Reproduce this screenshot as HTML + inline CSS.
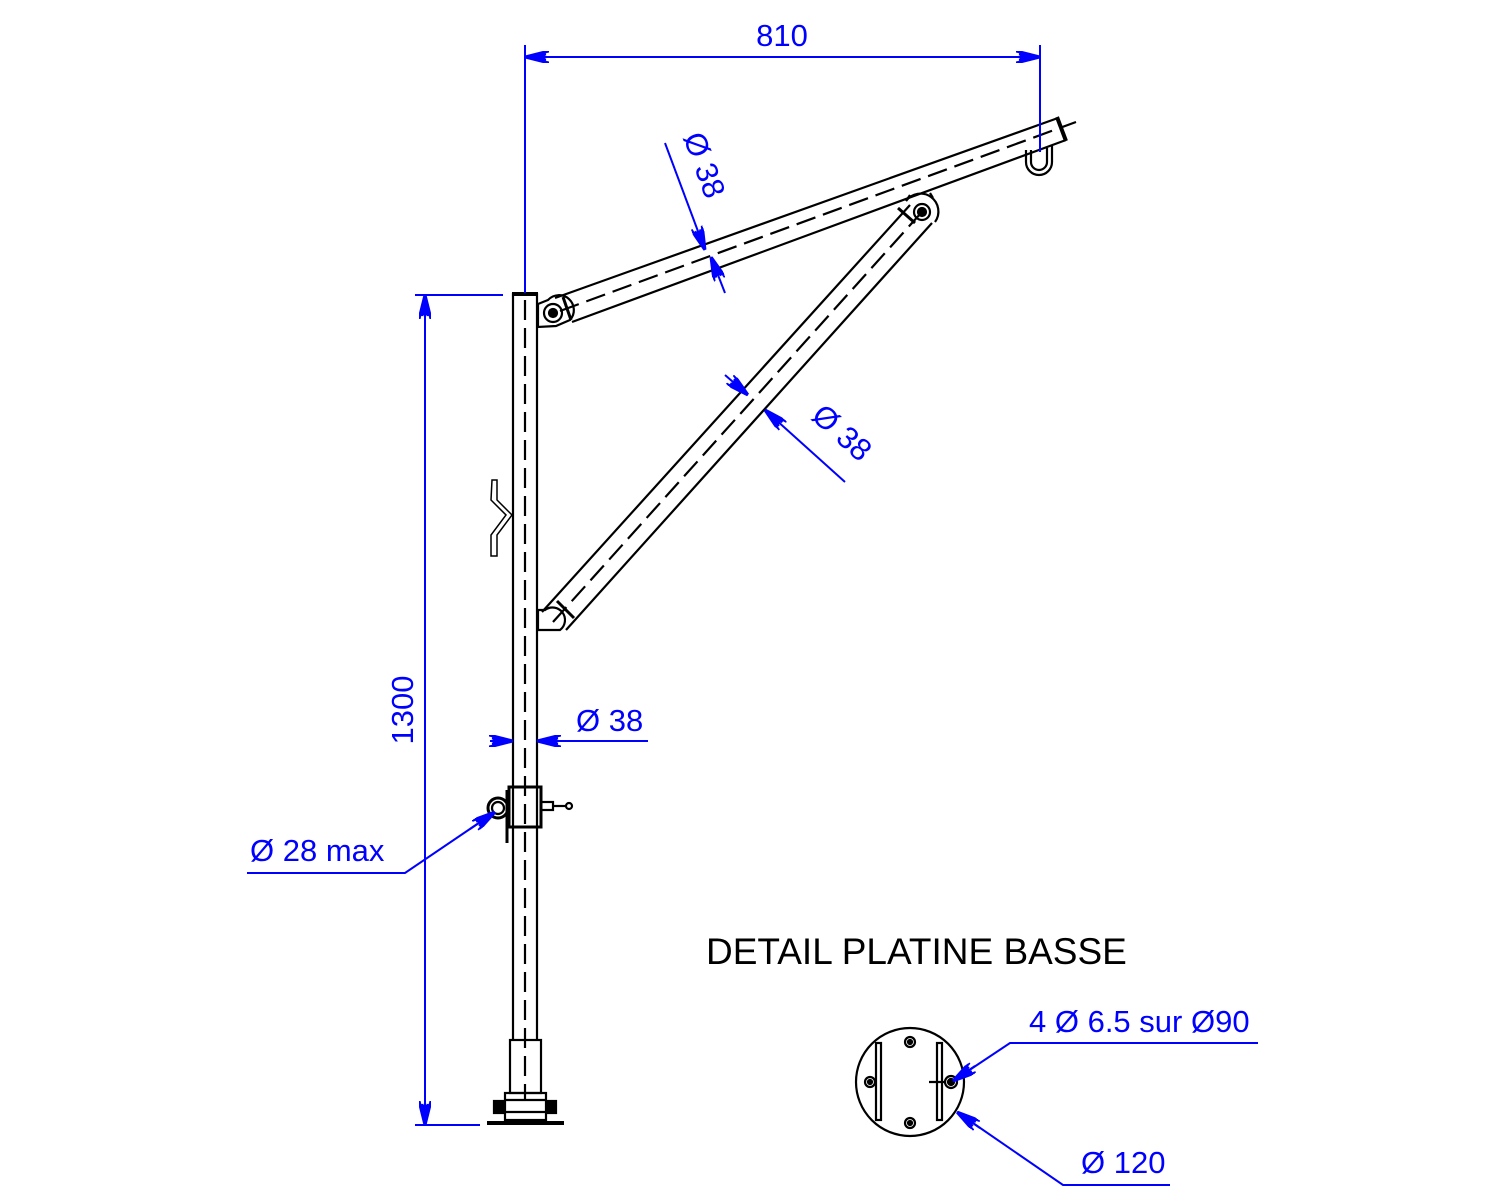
<!DOCTYPE html>
<html><head><style>body{margin:0;background:#fff}svg{display:block}</style></head><body>
<svg width="1500" height="1200" viewBox="0 0 1500 1200" xmlns="http://www.w3.org/2000/svg" font-family="Liberation Sans, sans-serif">
<defs>
<marker id="a" viewBox="0 0 24 12" refX="24" refY="6" markerWidth="24" markerHeight="12" markerUnits="userSpaceOnUse" orient="auto"><path d="M0,0 L24,6 L0,12 M3,3 L24,6 L3,9 M4,6 L24,6" fill="none" stroke="#0000ff" stroke-width="3"/></marker>
</defs>
<g stroke="#000" stroke-width="2.2" fill="none">
<line x1="513" y1="293" x2="513" y2="1040"/>
<line x1="537" y1="293" x2="537" y2="1040"/>
<line x1="512" y1="294" x2="538" y2="294" stroke-width="4"/>
<line x1="525" y1="300" x2="525" y2="1100" stroke-dasharray="20,8"/>
<rect x="510" y="1040" width="31" height="53"/>
<rect x="505" y="1093" width="41" height="27"/>
<line x1="505" y1="1100" x2="546" y2="1100"/><line x1="505" y1="1112" x2="546" y2="1112"/>
<rect x="494" y="1101" width="10" height="12" fill="#000"/><rect x="548" y="1101" width="8" height="12" fill="#000"/>
<line x1="487" y1="1123" x2="564" y2="1123" stroke-width="4"/>
<rect x="509" y="787" width="32" height="40" stroke-width="3"/>
<line x1="507" y1="790" x2="507" y2="843" stroke-width="3"/>
<rect x="541" y="802" width="12" height="8"/><line x1="553" y1="806" x2="566" y2="806"/><circle cx="569" cy="806" r="3"/>
<circle cx="498" cy="808" r="10" stroke-width="3"/><circle cx="498" cy="808" r="6"/>
<path d="M492,480 L497,480 L497,500 L512,515 L497,535 L497,556 L491,556 L491,535 L506,515 L491,500 Z" stroke-width="1.5"/>
<line x1="555" y1="298" x2="1058" y2="118"/>
<line x1="572" y1="322" x2="1066" y2="140"/>
<line x1="560" y1="311" x2="1076" y2="122" stroke-dasharray="20,8"/>
<line x1="1057" y1="117" x2="1066" y2="141" stroke-width="4"/>
<line x1="563" y1="297" x2="571" y2="320" stroke-width="3"/>
<path d="M538,304 L548,300 A14,14 0 0 1 570,320 L556,326 L538,327 Z"/>
<circle cx="553" cy="313" r="9"/><circle cx="553" cy="313" r="4" fill="#000"/>
<path d="M1026,150 L1026,162 A13,13 0 0 0 1052,162 L1052,146"/><path d="M1031,150 L1031,162 A8,8 0 0 0 1047,162 L1047,148"/>
<line x1="542" y1="612" x2="910" y2="205"/>
<line x1="566" y1="630" x2="932" y2="223"/>
<line x1="553" y1="622" x2="921" y2="213" stroke-dasharray="20,8"/>
<path d="M906,201 A15,15 0 1 1 935,222"/><line x1="906" y1="201" x2="910" y2="195"/><line x1="930" y1="193" x2="933" y2="198"/>
<circle cx="922" cy="212" r="8"/><circle cx="922" cy="212" r="4" fill="#000"/>
<line x1="557" y1="601" x2="574" y2="618" stroke-width="3"/><line x1="915" y1="223" x2="898" y2="208" stroke-width="3"/>
<path d="M538,610 L545,610 A12,12 0 0 1 560,630 L538,630 Z"/>
<circle cx="910" cy="1082" r="54"/>
<rect x="876" y="1043" width="5" height="77"/><rect x="937" y="1043" width="5" height="77"/>
<circle cx="910" cy="1042" r="5"/><circle cx="910" cy="1042" r="2" fill="#000"/>
<circle cx="870" cy="1082" r="5"/><circle cx="870" cy="1082" r="2" fill="#000"/>
<circle cx="910" cy="1123" r="5"/><circle cx="910" cy="1123" r="2" fill="#000"/>
<circle cx="951" cy="1082" r="6"/><circle cx="951" cy="1082" r="3" fill="#000"/>
<line x1="929" y1="1082" x2="946" y2="1082"/>
</g>
<g stroke="#0000ff" stroke-width="2" fill="none">
<line x1="525" y1="45" x2="525" y2="293"/><line x1="1040" y1="45" x2="1040" y2="152"/>
<line x1="540" y1="57" x2="1025" y2="57"/>
<line x1="560" y1="57" x2="525" y2="57" marker-end="url(#a)"/><line x1="1005" y1="57" x2="1040" y2="57" marker-end="url(#a)"/>
<line x1="415" y1="295" x2="503" y2="295"/><line x1="415" y1="1125" x2="480" y2="1125"/>
<line x1="425" y1="295" x2="425" y2="1125"/>
<line x1="425" y1="330" x2="425" y2="295" marker-end="url(#a)"/><line x1="425" y1="1090" x2="425" y2="1125" marker-end="url(#a)"/>
<line x1="490" y1="741" x2="513" y2="741" marker-end="url(#a)"/>
<line x1="648" y1="741" x2="537" y2="741" marker-end="url(#a)"/>
<polyline points="247,873 405,873 495,812"/>
<line x1="470" y1="829" x2="495" y2="812" marker-end="url(#a)"/>
<line x1="665" y1="143" x2="705" y2="250" marker-end="url(#a)"/>
<line x1="725" y1="293" x2="711" y2="257" marker-end="url(#a)"/>
<line x1="725" y1="375" x2="748" y2="395" marker-end="url(#a)"/>
<line x1="845" y1="482" x2="765" y2="410" marker-end="url(#a)"/>
<polyline points="1258,1043 1010,1043 953,1081"/>
<line x1="975" y1="1066" x2="953" y2="1081" marker-end="url(#a)"/>
<polyline points="1170,1185 1063,1185 957,1112"/>
<line x1="980" y1="1128" x2="957" y2="1112" marker-end="url(#a)"/>
</g>
<g fill="#0000ff" font-size="31">
<text x="782" y="46" text-anchor="middle">810</text>
<text transform="translate(413,710) rotate(-90)" text-anchor="middle">1300</text>
<text x="576" y="731">Ø 38</text>
<text x="250" y="861">Ø 28 max</text>
<text transform="translate(683,137) rotate(70)">Ø 38</text>
<text transform="translate(810,418) rotate(42)">Ø 38</text>
<text x="1029" y="1032">4 Ø 6.5 sur Ø90</text>
<text x="1081" y="1173">Ø 120</text>
</g>
<text x="706" y="964" font-size="37" fill="#000">DETAIL PLATINE BASSE</text>
</svg>
</body></html>
